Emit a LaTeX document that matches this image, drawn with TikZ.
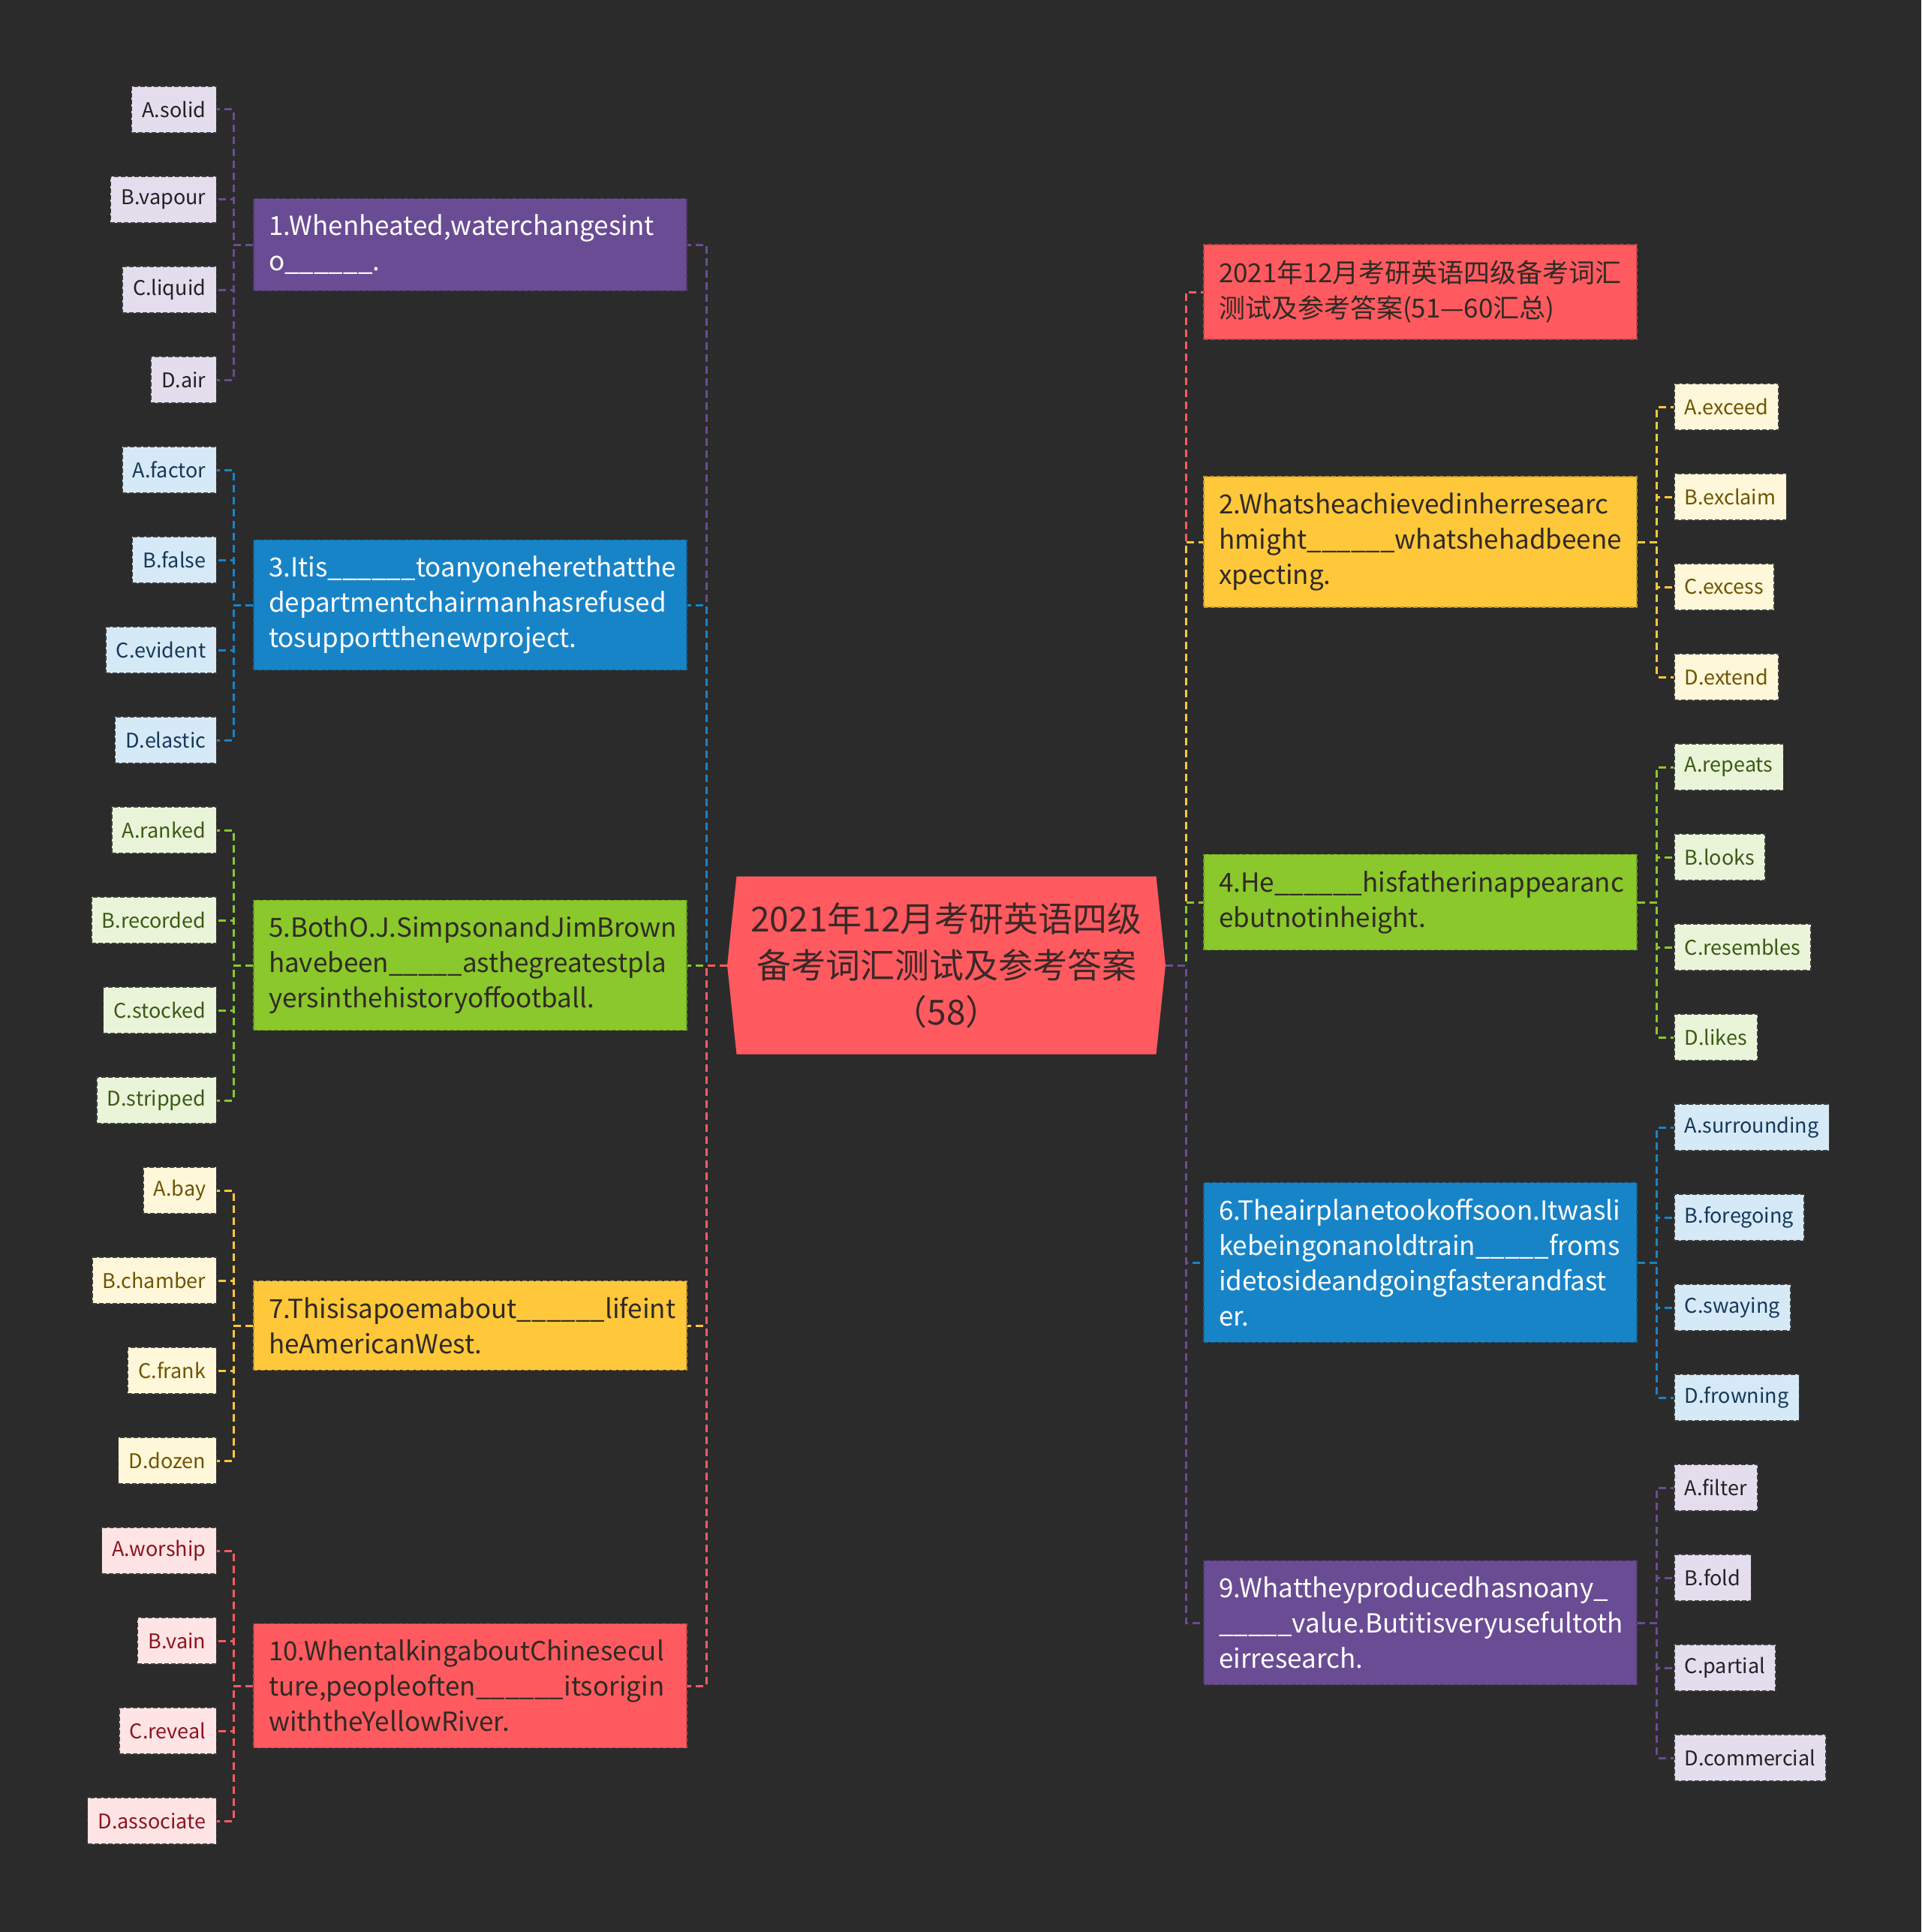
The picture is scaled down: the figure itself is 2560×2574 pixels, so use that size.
\documentclass[tikz,border=0pt]{standalone}
\usepackage{fontspec}
\setmainfont{Noto Sans CJK SC}
\usepackage{xcolor}
\usepackage{tikz}
\usetikzlibrary{shapes.symbols}
\definecolor{BgDark}{RGB}{43,43,43}
\definecolor{HubRed}{RGB}{255,90,95}
\definecolor{HubText}{RGB}{58,40,40}
\definecolor{QPurple}{RGB}{106,76,148}
\definecolor{QBlue}{RGB}{24,132,200}
\definecolor{QGreen}{RGB}{138,200,43}
\definecolor{QYellow}{RGB}{255,200,58}
\definecolor{QRed}{RGB}{255,90,95}
\definecolor{QDark}{RGB}{48,42,36}
\definecolor{LPurple}{RGB}{227,221,238}
\definecolor{LBlue}{RGB}{214,233,246}
\definecolor{LGreen}{RGB}{234,244,217}
\definecolor{LYellow}{RGB}{255,247,218}
\definecolor{LRed}{RGB}{255,228,229}
\definecolor{TPurple}{RGB}{34,34,34}
\definecolor{TBlue}{RGB}{22,56,90}
\definecolor{TGreen}{RGB}{60,90,20}
\definecolor{TYellow}{RGB}{110,85,0}
\definecolor{TRed}{RGB}{140,20,30}
\definecolor{LeafLine}{RGB}{60,60,60}
\newcommand{\qfont}{\fontsize{35}{47}\selectfont\hyphenpenalty=10000\relax}
\newcommand{\leaffont}{\fontsize{27}{32}\selectfont}

\begin{document}
\begin{tikzpicture}[
  x=1pt, y=-1pt,
  hub/.style={shape=signal,signal to=east and west,signal pointer angle=168,
    fill=HubRed,text=HubText,minimum width=584pt,minimum height=237pt,
    inner sep=0pt,align=center,font=\fontsize{46}{62}\selectfont},
  qbox/.style={draw,dash pattern=on 6pt off 3pt,line width=1.5pt,text width=537pt,
    inner xsep=20pt,inner ysep=21.5pt,align=left,font=\qfont},
  qpurple/.style={qbox,fill=QPurple,draw=QPurple!75!black,text=white},
  qblue/.style={qbox,fill=QBlue,draw=QBlue!75!black,text=white},
  qgreen/.style={qbox,fill=QGreen,draw=QGreen!75!black,text=QDark},
  qyellow/.style={qbox,fill=QYellow,draw=QYellow!75!black,text=QDark},
  qred/.style={qbox,fill=QRed,draw=QRed!75!black,text=QDark},
  leaf/.style={draw=LeafLine,dash pattern=on 6pt off 3pt,line width=1.5pt,
    minimum height=62pt,inner xsep=14pt,font=\leaffont},
  lpurple/.style={leaf,fill=LPurple,text=TPurple},
  lblue/.style={leaf,fill=LBlue,text=TBlue},
  lgreen/.style={leaf,fill=LGreen,text=TGreen},
  lyellow/.style={leaf,fill=LYellow,text=TYellow},
  lred/.style={leaf,fill=LRed,text=TRed},
  link/.style={dash pattern=on 10pt off 6pt,line width=3pt}
]
\fill[BgDark] (0,0) rectangle (2560,2574);
\useasboundingbox (0,0) rectangle (2560,2574);

% centre
\node[hub] (hub) at (1261,1286) {2021年12月考研英语四级\\备考词汇测试及参考答案\\（58）};
\coordinate (jL) at (941,1286);
\coordinate (jR) at (1580,1286);

% left questions
\node[qpurple] (q1) at (626.5,326) {1.Whenheated,waterchangesint\\o\_\_\_\_\_\_.};
\node[qblue] (q3) at (626.5,806) {3.Itis\_\_\_\_\_\_toanyoneherethatthe\\departmentchairmanhasrefused\\tosupportthenewproject.};
\node[qgreen] (q5) at (626.5,1286) {5.BothO.J.SimpsonandJimBrown\\havebeen\_\_\_\_\_asthegreatestpla\\yersinthehistoryoffootball.};
\node[qyellow] (q7) at (626.5,1766) {7.Thisisapoemabout\_\_\_\_\_\_lifeint\\heAmericanWest.};
\node[qred] (q10) at (626.5,2246) {10.WhentalkingaboutChinesecul\\ture,peopleoften\_\_\_\_\_\_itsorigin\\withtheYellowRiver.};

% right questions
\node[qred] (tq) at (1892.5,389) {2021年12月考研英语四级备考词汇\\测试及参考答案(51—60汇总)};
\node[qyellow] (q2) at (1892.5,722) {2.Whatsheachievedinherresearc\\hmight\_\_\_\_\_\_whatshehadbeene\\xpecting.};
\node[qgreen] (q4) at (1892.5,1202) {4.He\_\_\_\_\_\_hisfatherinappearanc\\ebutnotinheight.};
\node[qblue] (q6) at (1892.5,1682) {6.Theairplanetookoffsoon.Itwasli\\kebeingonanoldtrain\_\_\_\_\_froms\\idetosideandgoingfasterandfast\\er.};
\node[qpurple] (q9) at (1892.5,2162) {9.Whattheyproducedhasnoany\_\\\_\_\_\_\_value.Butitisveryusefultoth\\eirresearch.};

% left options
\node[lpurple,anchor=east] (s1a) at (289,146) {A.solid};
\node[lpurple,anchor=east] (s1b) at (289,266) {B.vapour};
\node[lpurple,anchor=east] (s1c) at (289,386) {C.liquid};
\node[lpurple,anchor=east] (s1d) at (289,506) {D.air};
\node[lblue,anchor=east] (s3a) at (289,626) {A.factor};
\node[lblue,anchor=east] (s3b) at (289,746) {B.false};
\node[lblue,anchor=east] (s3c) at (289,866) {C.evident};
\node[lblue,anchor=east] (s3d) at (289,986) {D.elastic};
\node[lgreen,anchor=east] (s5a) at (289,1106) {A.ranked};
\node[lgreen,anchor=east] (s5b) at (289,1226) {B.recorded};
\node[lgreen,anchor=east] (s5c) at (289,1346) {C.stocked};
\node[lgreen,anchor=east] (s5d) at (289,1466) {D.stripped};
\node[lyellow,anchor=east] (s7a) at (289,1586) {A.bay};
\node[lyellow,anchor=east] (s7b) at (289,1706) {B.chamber};
\node[lyellow,anchor=east] (s7c) at (289,1826) {C.frank};
\node[lyellow,anchor=east] (s7d) at (289,1946) {D.dozen};
\node[lred,anchor=east] (s10a) at (289,2066) {A.worship};
\node[lred,anchor=east] (s10b) at (289,2186) {B.vain};
\node[lred,anchor=east] (s10c) at (289,2306) {C.reveal};
\node[lred,anchor=east] (s10d) at (289,2426) {D.associate};

% right options
\node[lyellow,anchor=west] (s2a) at (2230,542) {A.exceed};
\node[lyellow,anchor=west] (s2b) at (2230,662) {B.exclaim};
\node[lyellow,anchor=west] (s2c) at (2230,782) {C.excess};
\node[lyellow,anchor=west] (s2d) at (2230,902) {D.extend};
\node[lgreen,anchor=west] (s4a) at (2230,1022) {A.repeats};
\node[lgreen,anchor=west] (s4b) at (2230,1142) {B.looks};
\node[lgreen,anchor=west] (s4c) at (2230,1262) {C.resembles};
\node[lgreen,anchor=west] (s4d) at (2230,1382) {D.likes};
\node[lblue,anchor=west] (s6a) at (2230,1502) {A.surrounding};
\node[lblue,anchor=west] (s6b) at (2230,1622) {B.foregoing};
\node[lblue,anchor=west] (s6c) at (2230,1742) {C.swaying};
\node[lblue,anchor=west] (s6d) at (2230,1862) {D.frowning};
\node[lpurple,anchor=west] (s9a) at (2230,1982) {A.filter};
\node[lpurple,anchor=west] (s9b) at (2230,2102) {B.fold};
\node[lpurple,anchor=west] (s9c) at (2230,2222) {C.partial};
\node[lpurple,anchor=west] (s9d) at (2230,2342) {D.commercial};

% centre to questions
\draw[link,QPurple] (hub.west) -- (jL) |- (q1.east);
\draw[link,QBlue] (hub.west) -- (jL) |- (q3.east);
\draw[link,QGreen] (hub.west) -- (jL) |- (q5.east);
\draw[link,QYellow] (hub.west) -- (jL) |- (q7.east);
\draw[link,QRed] (hub.west) -- (jL) |- (q10.east);
\draw[link,QRed] (hub.east) -- (jR) |- (tq.west);
\draw[link,QYellow] (hub.east) -- (jR) |- (q2.west);
\draw[link,QGreen] (hub.east) -- (jR) |- (q4.west);
\draw[link,QBlue] (hub.east) -- (jR) |- (q6.west);
\draw[link,QPurple] (hub.east) -- (jR) |- (q9.west);

% questions to options
\draw[link,QPurple] (q1.west) -- ++(-26,0) |- (s1a.east);
\draw[link,QPurple] (q1.west) -- ++(-26,0) |- (s1b.east);
\draw[link,QPurple] (q1.west) -- ++(-26,0) |- (s1c.east);
\draw[link,QPurple] (q1.west) -- ++(-26,0) |- (s1d.east);
\draw[link,QBlue] (q3.west) -- ++(-26,0) |- (s3a.east);
\draw[link,QBlue] (q3.west) -- ++(-26,0) |- (s3b.east);
\draw[link,QBlue] (q3.west) -- ++(-26,0) |- (s3c.east);
\draw[link,QBlue] (q3.west) -- ++(-26,0) |- (s3d.east);
\draw[link,QGreen] (q5.west) -- ++(-26,0) |- (s5a.east);
\draw[link,QGreen] (q5.west) -- ++(-26,0) |- (s5b.east);
\draw[link,QGreen] (q5.west) -- ++(-26,0) |- (s5c.east);
\draw[link,QGreen] (q5.west) -- ++(-26,0) |- (s5d.east);
\draw[link,QYellow] (q7.west) -- ++(-26,0) |- (s7a.east);
\draw[link,QYellow] (q7.west) -- ++(-26,0) |- (s7b.east);
\draw[link,QYellow] (q7.west) -- ++(-26,0) |- (s7c.east);
\draw[link,QYellow] (q7.west) -- ++(-26,0) |- (s7d.east);
\draw[link,QRed] (q10.west) -- ++(-26,0) |- (s10a.east);
\draw[link,QRed] (q10.west) -- ++(-26,0) |- (s10b.east);
\draw[link,QRed] (q10.west) -- ++(-26,0) |- (s10c.east);
\draw[link,QRed] (q10.west) -- ++(-26,0) |- (s10d.east);
\draw[link,QYellow] (q2.east) -- ++(26,0) |- (s2a.west);
\draw[link,QYellow] (q2.east) -- ++(26,0) |- (s2b.west);
\draw[link,QYellow] (q2.east) -- ++(26,0) |- (s2c.west);
\draw[link,QYellow] (q2.east) -- ++(26,0) |- (s2d.west);
\draw[link,QGreen] (q4.east) -- ++(26,0) |- (s4a.west);
\draw[link,QGreen] (q4.east) -- ++(26,0) |- (s4b.west);
\draw[link,QGreen] (q4.east) -- ++(26,0) |- (s4c.west);
\draw[link,QGreen] (q4.east) -- ++(26,0) |- (s4d.west);
\draw[link,QBlue] (q6.east) -- ++(26,0) |- (s6a.west);
\draw[link,QBlue] (q6.east) -- ++(26,0) |- (s6b.west);
\draw[link,QBlue] (q6.east) -- ++(26,0) |- (s6c.west);
\draw[link,QBlue] (q6.east) -- ++(26,0) |- (s6d.west);
\draw[link,QPurple] (q9.east) -- ++(26,0) |- (s9a.west);
\draw[link,QPurple] (q9.east) -- ++(26,0) |- (s9b.west);
\draw[link,QPurple] (q9.east) -- ++(26,0) |- (s9c.west);
\draw[link,QPurple] (q9.east) -- ++(26,0) |- (s9d.west);
\end{tikzpicture}
\end{document}
